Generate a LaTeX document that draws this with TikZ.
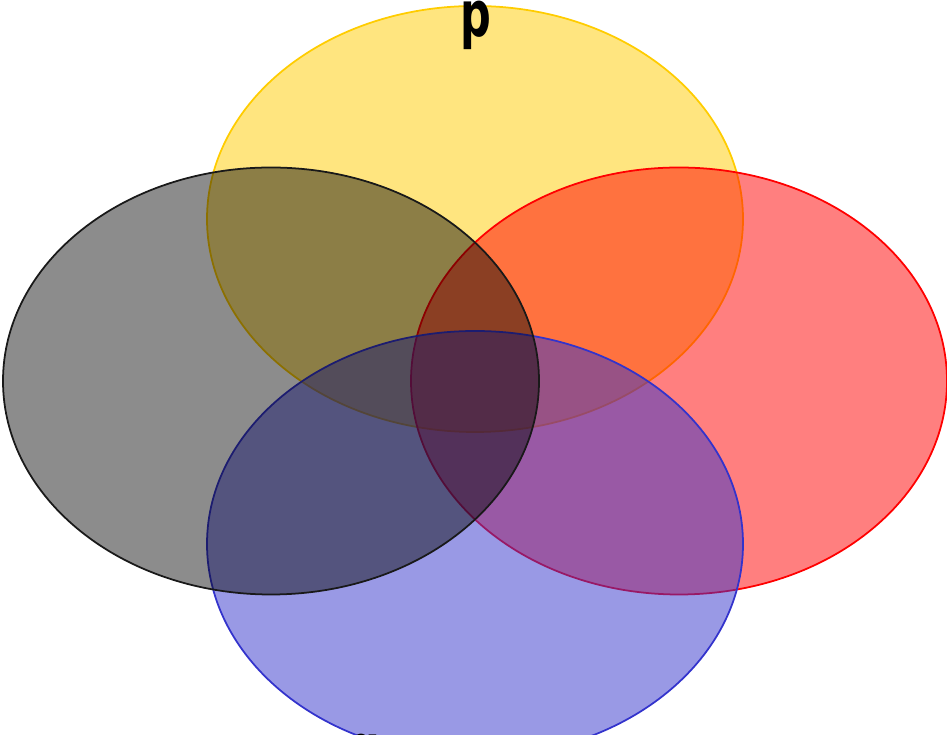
\documentclass[tikz,border=0pt]{standalone}
\usepackage{fontspec}
\usepackage{tikz}
\newfontfamily\labelfont{DejaVu Sans}
\definecolor{setgold}{RGB}{255,204,0}
\definecolor{setred}{RGB}{255,0,0}
\definecolor{setblue}{RGB}{51,51,204}
\definecolor{setgray}{RGB}{25,25,25}
\tikzset{
  setshape/.style={line width=1pt},
  setlabel/.style={font=\labelfont\bfseries\fontsize{36}{36}\selectfont, inner sep=0pt, anchor=base, xscale=0.68}
}

\begin{document}
\begin{tikzpicture}
  \useasboundingbox (0,0) rectangle (18.94,14.7);
  % the four sets
  \draw[setshape, setgold, fill=setgold, fill opacity=0.5] (9.5,10.32) ellipse [x radius=5.36, y radius=4.26];
  \draw[setshape, setred, fill=setred, fill opacity=0.5] (13.58,7.08) ellipse [x radius=5.36, y radius=4.27];
  \draw[setshape, setblue, fill=setblue, fill opacity=0.5] (9.5,3.82) ellipse [x radius=5.36, y radius=4.26];
  \draw[setshape, setgray, fill=black, fill opacity=0.45] (5.42,7.08) ellipse [x radius=5.36, y radius=4.27];
  % labels
  \node[setlabel] (p) at (9.52,13.96) {p};
  \node[setlabel] (q) at (7.3,-0.7) {q};
\end{tikzpicture}
\end{document}
